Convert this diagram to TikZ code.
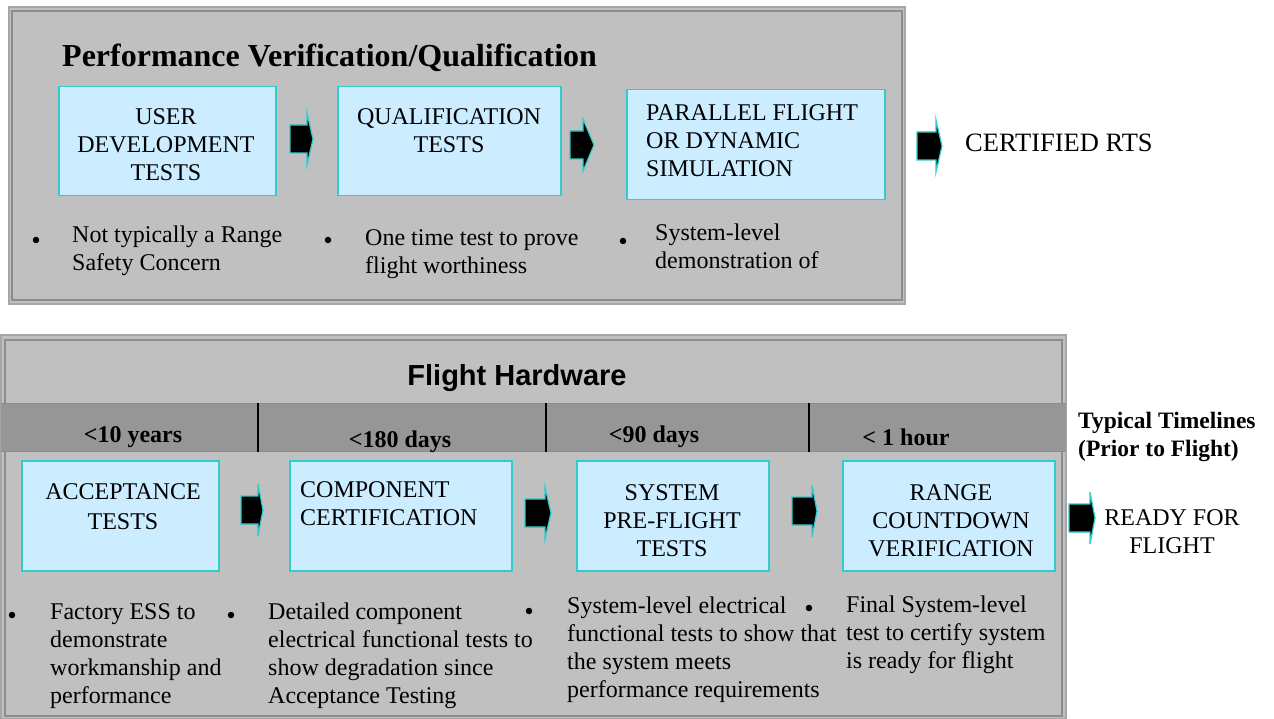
\documentclass[tikz,border=0pt]{standalone}
\usepackage{fontspec}
\setmainfont{Liberation Serif}
\newfontfamily\hdsans{Liberation Sans}
\definecolor{panel}{HTML}{C0C0C0}
\definecolor{band}{HTML}{969696}
\definecolor{boxfill}{HTML}{CCECFF}
\definecolor{boxline}{HTML}{33CCCC}
\definecolor{outerline}{HTML}{A6A6A6}
\definecolor{innerline}{HTML}{8C8C8C}
\tikzset{
  panelouter/.style={draw=outerline, line width=1.5pt, fill=panel},
  panelinner/.style={draw=innerline, line width=1.2pt},
  stagebox/.style={draw=boxline, fill=boxfill, line width=1.5pt, inner sep=0, anchor=north west},
  body/.style={font=\fontsize{24}{28}\selectfont, inner sep=0, align=left, anchor=base west},
  bodyc/.style={font=\fontsize{24}{28}\selectfont, inner sep=0, align=center, anchor=base},
  timelbl/.style={font=\bfseries\fontsize{24}{28}\selectfont, inner sep=0, anchor=base},
  blockarr/.style={fill=black, draw=boxline, line width=1.2pt, line join=miter},
  bulletdot/.style={fill=black, circle, inner sep=0, minimum size=6.5pt},
  divider/.style={draw=black, line width=1.5pt},
}
% block arrow: left x, shaft end x, tip x, mid y
\newcommand\blkarrow[4]{%
  \draw[blockarr] (#1,{#4-14}) -- (#2,{#4-14}) -- (#2,{#4-26}) -- (#3,#4)
    -- (#2,{#4+26}) -- (#2,{#4+14}) -- (#1,{#4+14}) -- cycle;}
\begin{document}
\begin{tikzpicture}[x=1pt,y=-1pt]
\useasboundingbox (0,0) rectangle (1274,719);
\fill[white] (0,0) rectangle (1274,719);

% ---------- top panel ----------
\draw[panelouter] (9,7) rectangle (905,304);
\draw[panelinner] (12,11) rectangle (902,300);
\node[anchor=base west, inner sep=0, font=\bfseries\fontsize{32}{38}\selectfont] (pvq) at (62,67) {Performance Verification/Qualification};

\node[stagebox, minimum width=217pt, minimum height=109pt] (udt) at (58,86) {};
\node[bodyc] (udtt) at (166,181) {USER\\DEVELOPMENT\\TESTS};
\node[stagebox, minimum width=223pt, minimum height=109pt] (qt) at (337,86) {};
\node[bodyc] (qtt) at (449,153) {QUALIFICATION\\TESTS};
\node[stagebox, minimum width=258pt, minimum height=110pt] (pf) at (626,89) {};
\node[body] (pft) at (646,177) {PARALLEL FLIGHT\\OR DYNAMIC\\SIMULATION};

\blkarrow{290}{307}{313}{139}
\blkarrow{570}{583}{594}{145}
\blkarrow{917}{936}{942}{146}
\node[anchor=base west, inner sep=0, font=\fontsize{26.5}{30}\selectfont] (crts) at (965,152) {CERTIFIED RTS};

\node[bulletdot] (bu1) at (36,240) {};
\node[body] (n1) at (72,271) {Not typically a Range\\Safety Concern};
\node[bulletdot] (bu2) at (328,240) {};
\node[body] (n2) at (365,273) {One time test to prove\\flight worthiness};
\node[bulletdot] (bu3) at (623,241) {};
\node[body] (n3) at (655,269) {System-level\\demonstration of};

% ---------- bottom panel ----------
\draw[panelouter] (1,335) rectangle (1066,719);
\draw[panelinner] (5,340) rectangle (1062,716);
\fill[band] (1,403) rectangle (1066,451);
\draw[innerline, line width=1pt] (1,403) -- (1066,403);
\draw[innerline, line width=1pt] (1,451) -- (1066,451);
\draw[divider] (258,403) -- (258,452);
\draw[divider] (546,403) -- (546,452);
\draw[divider] (809,403) -- (809,452);

\node[anchor=base, inner sep=0, font=\hdsans\bfseries\fontsize{29}{34}\selectfont] (fh) at (517,385) {Flight Hardware};
\node[timelbl] (t1) at (133,442) {<10 years};
\node[timelbl] (t2) at (400,447) {<180 days};
\node[timelbl] (t3) at (654,442) {<90 days};
\node[timelbl] (t4) at (906,445) {< 1 hour};
\node[anchor=base west, inner sep=0, align=left, font=\bfseries\fontsize{23.5}{28}\selectfont] (tt) at (1078,456) {Typical Timelines\\(Prior to Flight)};

\node[stagebox, minimum width=197pt, minimum height=110pt] (acc) at (21,460) {};
\node[bodyc] (acct) at (123,529) {ACCEPTANCE\\[2pt]TESTS};
\node[stagebox, minimum width=222pt, minimum height=110pt] (cc) at (289,460) {};
\node[body] (cct) at (300,525) {COMPONENT\\CERTIFICATION};
\node[stagebox, minimum width=192pt, minimum height=110pt] (spf) at (576,460) {};
\node[bodyc] (spft) at (672,556) {SYSTEM\\PRE-FLIGHT\\TESTS};
\node[stagebox, minimum width=212pt, minimum height=110pt] (rcv) at (842,460) {};
\node[bodyc] (rcvt) at (951,556) {RANGE\\COUNTDOWN\\VERIFICATION};

\blkarrow{241}{258}{263}{510}
\blkarrow{525}{545}{551}{513}
\blkarrow{792}{812}{817}{511}
\blkarrow{1069}{1090}{1095}{518}
\node[bodyc] (rff) at (1172,553) {READY FOR\\FLIGHT};

\node[bulletdot] (bb1) at (12,615) {};
\node[body] (m1) at (50,703) {Factory ESS to\\demonstrate\\workmanship and\\performance};
\node[bulletdot] (bb2) at (231,615) {};
\node[body] (m2) at (268,703) {Detailed component\\electrical functional tests to\\show degradation since\\Acceptance Testing};
\node[bulletdot] (bb3) at (529,611) {};
\node[body] (m3) at (567,697) {System-level electrical\\functional tests to show that\\the system meets\\performance requirements};
\node[bulletdot] (bb4) at (809,608) {};
\node[body] (m4) at (846,668) {Final System-level\\test to certify system\\is ready for flight};
\end{tikzpicture}
\end{document}
